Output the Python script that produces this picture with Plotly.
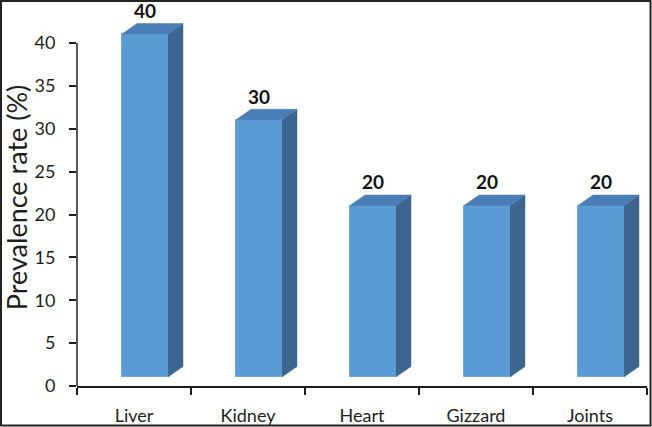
import plotly.graph_objects as go

# ---- data ----
categories = ["Liver", "Kidney", "Heart", "Gizzard", "Joints"]
values = [40, 30, 20, 20, 20]
y_ticks = [0, 5, 10, 15, 20, 25, 30, 35, 40]

# ---- style / geometry ----
W, H = 652, 427
ML, MR, MT, MB = 77, 5, 9, 41
PW, PH = W - ML - MR, H - MT - MB
PX_PER_UNIT = 343 / 40.0          # y pixels per value unit
Y_MAX = PH / PX_PER_UNIT
FRONT_OFFSET = -0.105             # left edge of front face relative to category centre
FRONT_WIDTH = 0.403
DEPTH_DX = 15 / (PW / len(categories))
DEPTH_DY = 10.5 / PX_PER_UNIT
LIFT = 1.05                       # 3-D floor lift of the front face
LABEL_GAP = 10.5 / PX_PER_UNIT    # label centre above back edge of top face

FRONT = "#5B9BD5"
TOP = "#4A7DB5"
SIDE = "#3C6690"
TXT = "#1E1E1E"
FONT = "Lato"

fig = go.Figure()

pos = list(range(len(categories)))

# side and top faces (computed from values)
for i, v in zip(pos, values):
    L = i + FRONT_OFFSET
    R = L + FRONT_WIDTH
    b = LIFT
    t = LIFT + v
    fig.add_trace(go.Scatter(
        x=[R, R + DEPTH_DX, R + DEPTH_DX, R, R],
        y=[b, b + DEPTH_DY, t + DEPTH_DY, t, b],
        fill="toself", fillcolor=SIDE, mode="lines",
        line=dict(color=SIDE, width=0.5), xaxis="x2", hoverinfo="skip",
        showlegend=False))
    fig.add_trace(go.Scatter(
        x=[L, L + DEPTH_DX, R + DEPTH_DX, R, L],
        y=[t, t + DEPTH_DY, t + DEPTH_DY, t, t],
        fill="toself", fillcolor=TOP, mode="lines",
        line=dict(color=TOP, width=0.5), xaxis="x2", hoverinfo="skip",
        showlegend=False))

# front faces
fig.add_trace(go.Bar(
    x=categories, y=values, base=LIFT,
    offset=FRONT_OFFSET, width=FRONT_WIDTH,
    marker=dict(color=FRONT, line=dict(color="#6FA9DD", width=1)),
    showlegend=False))

# value labels
fig.add_trace(go.Scatter(
    x=[i + FRONT_OFFSET + FRONT_WIDTH / 2 for i in pos],
    y=[LIFT + v + DEPTH_DY + LABEL_GAP for v in values],
    text=[str(v) for v in values], mode="text", textposition="middle center",
    textfont=dict(family=FONT, size=19, color="#111111", weight="bold"),
    xaxis="x2", cliponaxis=False, hoverinfo="skip", showlegend=False))

# y axis line from 0 to 40 only
fig.add_shape(type="line", xref="paper", yref="y", x0=0, x1=0,
              y0=y_ticks[0], y1=y_ticks[-1], line=dict(color=TXT, width=1.5))

# outer border
fig.add_shape(type="rect", xref="paper", yref="paper",
              x0=(1 - ML) / PW, x1=(W - 1.5 - ML) / PW,
              y0=(PH + MT - (H - 1.5)) / PH, y1=(PH + MT - 1) / PH,
              line=dict(color="#222222", width=2), fillcolor="rgba(0,0,0,0)",
              layer="below")

fig.update_layout(
    width=W, height=H,
    margin=dict(l=ML, r=MR, t=MT, b=MB, autoexpand=False),
    paper_bgcolor="white", plot_bgcolor="white",
    bargap=0,
    font=dict(family=FONT, color=TXT),
    xaxis=dict(type="category", range=[-0.5, len(categories) - 0.5],
               tickson="boundaries", ticks="outside", ticklen=7,
               tickcolor=TXT, tickwidth=1.5,
               showline=True, linecolor=TXT, linewidth=1.5,
               showgrid=False, zeroline=False,
               tickfont=dict(family=FONT, size=18, color=TXT),
               ticklabelstandoff=13),
    xaxis2=dict(overlaying="x", range=[-0.5, len(categories) - 0.5],
                visible=False),
    yaxis=dict(range=[0, Y_MAX], tickvals=y_ticks, ticks="outside",
               ticklen=7, tickcolor=TXT, tickwidth=1.5,
               showline=False, showgrid=False, zeroline=False,
               tickfont=dict(family=FONT, size=18, color=TXT),
               ticklabelstandoff=10,
               title=dict(text="Prevalence rate (%)", standoff=8,
                          font=dict(family=FONT, size=27, color=TXT))),
)

fig.write_html("out.html",
               config={"displayModeBar": False},
               post_script="document.body.style.margin='0';"
                           "document.body.style.overflow='hidden';")
